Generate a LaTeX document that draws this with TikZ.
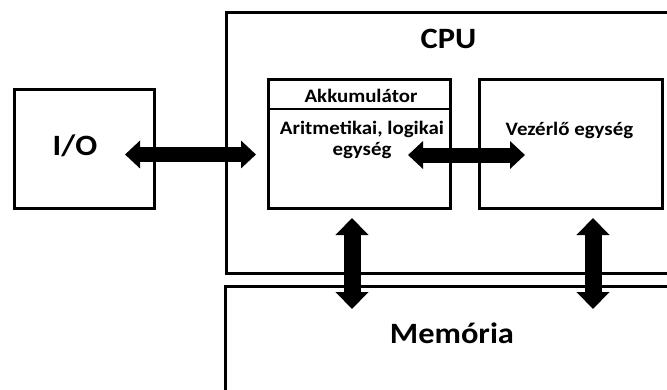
\documentclass[tikz,border=0pt]{standalone}
\usepackage{fontspec}
\setmainfont{Carlito}
\usetikzlibrary{arrows.meta}
\newcommand{\sx}[1]{\scalebox{1.1}[1]{#1}}
\begin{document}
\begin{tikzpicture}[x=1pt,y=-1pt,
  box/.style={draw, line width=3pt, rectangle, inner sep=0pt, outer sep=0pt},
  big/.style={font=\fontsize{29.5}{32}\selectfont\bfseries, inner sep=0pt, anchor=base},
  small/.style={font=\fontsize{19}{21}\selectfont\bfseries, inner sep=0pt, anchor=base},
  hbar/.style={line width=15pt, arrows={Triangle[length=15pt,width=27pt]-Triangle[length=15pt,width=27pt]}},
  vbar/.style={line width=17pt, arrows={Triangle[length=17pt,width=32pt]-Triangle[length=17pt,width=32pt]}}]
\useasboundingbox (0,0) rectangle (667,389);
\clip (0,0) rectangle (667,389);
% boxes
\node[box, minimum width=140.7pt, minimum height=119pt] (io) at (84.6,148.5) {};
\node[box, minimum width=494pt, minimum height=261pt] (cpu) at (473,143) {};
\node[box, minimum width=495pt, minimum height=164pt] (mem) at (472.5,368) {};
\node[box, minimum width=182.7pt, minimum height=129pt] (alu) at (359.35,143.5) {};
\node[box, minimum width=183pt, minimum height=129pt] (cu) at (570.5,143.5) {};
\coordinate (divy) at (0,109);
\draw[line width=2.6pt] (alu.west |- divy) -- (alu.east |- divy);
% texts
\node[big] (cputxt) at (448.5,48) {\sx{CPU}};
\node[big] (memtxt) at (452,343) {\sx{Memória}};
\node[big] (iotxt) at (75,155) {\sx{I/O}};
\node[small] (acctxt) at (361,102) {\sx{Akkumulátor}};
\node[small] (alutxt) at (362,134) {\sx{\begin{tabular}[t]{@{}c@{}}Aritmetikai, logikai\\egység\end{tabular}}};
\node[small] (cutxt) at (569.5,135) {\sx{Vezérlő egység}};
% arrows
\coordinate (ioL) at (125,154.5);
\coordinate (ioR) at (256,154.5);
\coordinate (acL) at (408,155);
\coordinate (acR) at (525,155);
\coordinate (m1T) at (352,218);
\coordinate (m1B) at (352,309);
\coordinate (m2T) at (593,218);
\coordinate (m2B) at (593,309);
\draw[hbar] (ioL) -- (ioR);
\draw[hbar] (acL) -- (acR);
\draw[vbar] (m1T) -- (m1B);
\draw[vbar] (m2T) -- (m2B);
\end{tikzpicture}
\end{document}
